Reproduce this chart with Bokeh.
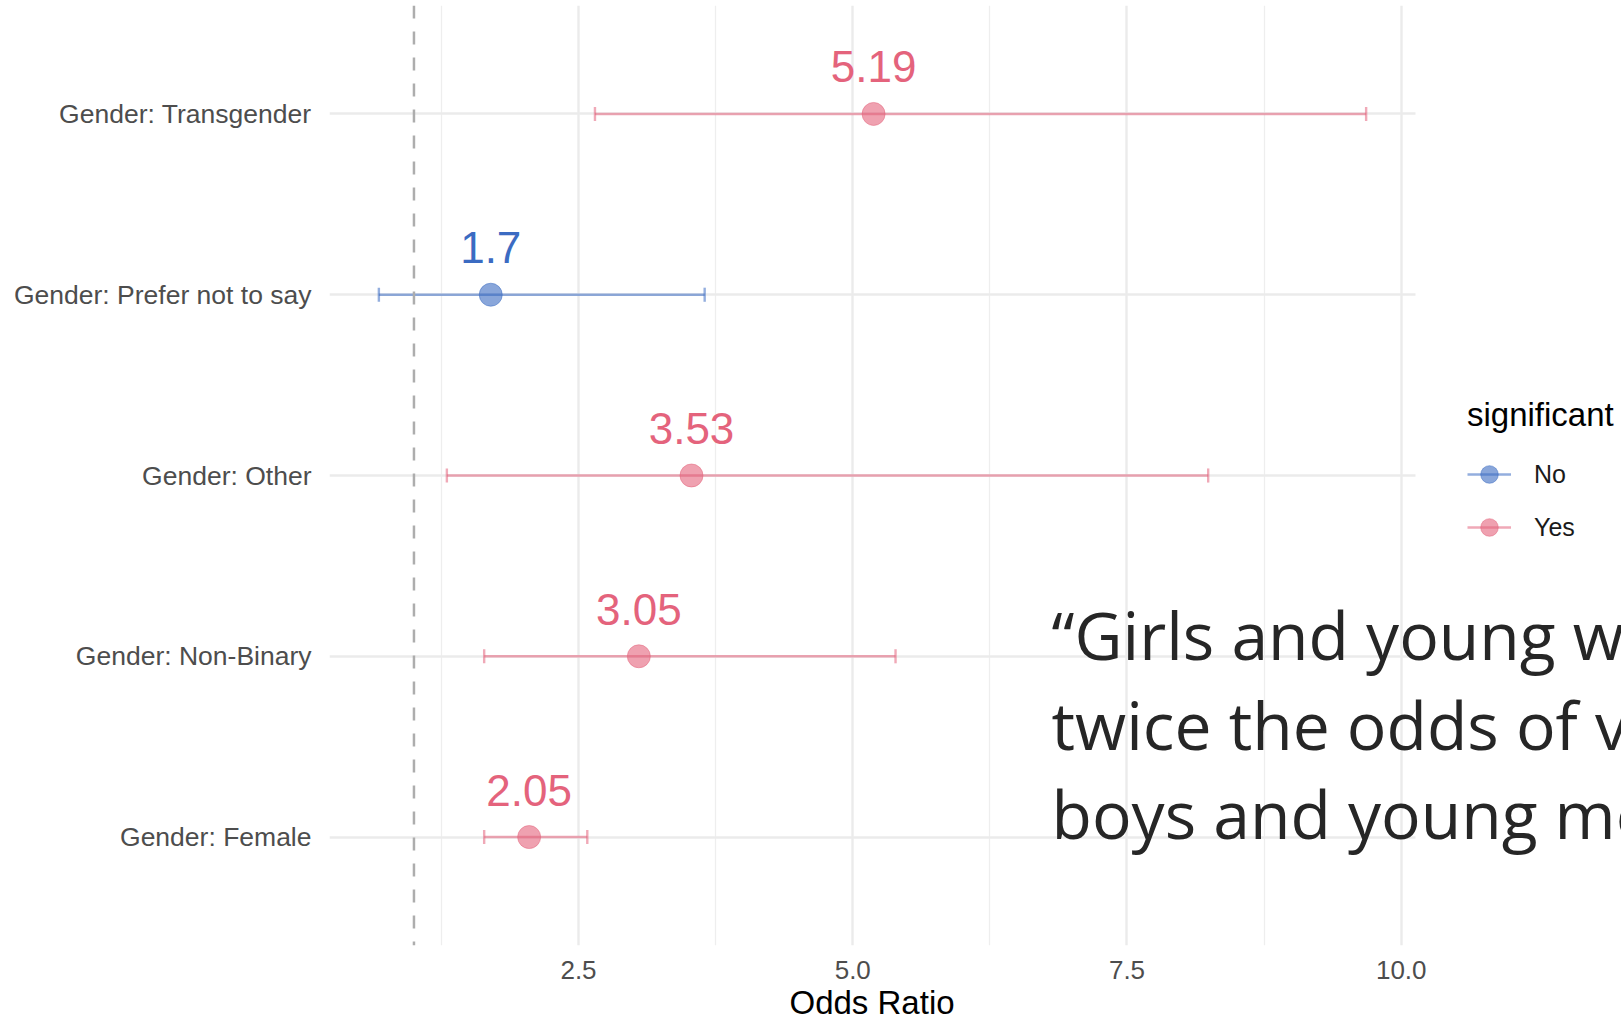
from bokeh.plotting import figure
from bokeh.models import (Range1d, FixedTicker, Span, Label, Legend, LegendItem,
                          ColumnDataSource, PrintfTickFormatter, Title)
from bokeh.core.properties import value
from bokeh.embed import file_html
from bokeh.resources import INLINE

# ---------------- data ----------------
categories = ["Gender: Female", "Gender: Non-Binary", "Gender: Other",
              "Gender: Prefer not to say", "Gender: Transgender"]
odds_ratio = [2.05, 3.05, 3.53, 1.70, 5.19]
ci_lower = [1.64, 1.64, 1.30, 0.68, 2.65]
ci_upper = [2.58, 5.39, 8.24, 3.65, 9.68]
significant = ["Yes", "Yes", "Yes", "No", "Yes"]
groups = ["No", "Yes"]
x_ticks = [2.5, 5.0, 7.5, 10.0]
x_minor_ticks = [1.25, 3.75, 6.25, 8.75]
reference_line = 1.0
x_title = "Odds Ratio"
quote_lines = ["\u201cGirls and young w", "twice the odds of v", "boys and young me"]

colors = {"No": "#3B6BC2", "Yes": "#E4637C"}

y_pos = list(range(1, len(categories) + 1))
labels = [f"{round(v, 2):g}" for v in odds_ratio]

# ggplot-like 5% expansion of the data range; frame continues to the right
PANEL_W, FRAME_W = 1086, 1292
span = max(ci_upper) - min(ci_lower)
x_start = min(ci_lower) - 0.05 * span
x_data_end = max(ci_upper) + 0.05 * span
x_frame_end = x_start + (x_data_end - x_start) * FRAME_W / PANEL_W

p = figure(width=1621, height=1023,
           min_border_left=329, min_border_right=0,
           min_border_top=5, min_border_bottom=78,
           x_range=Range1d(x_start, x_frame_end), y_range=Range1d(0.4, 5.6),
           output_backend="svg", toolbar_location=None)
p.outline_line_color = None
p.background_fill_color = "white"
p.border_fill_color = "white"

# grids
p.xgrid.ticker = FixedTicker(ticks=x_ticks, minor_ticks=x_minor_ticks)
p.xgrid.grid_line_color = "#EBEBEB"
p.xgrid.grid_line_width = 2.4
p.xgrid.minor_grid_line_color = "#EEEEEE"
p.xgrid.minor_grid_line_width = 1.3
p.ygrid.ticker = FixedTicker(ticks=y_pos)
p.ygrid.grid_line_color = "#EBEBEB"
p.ygrid.grid_line_width = 2.4
p.ygrid.cross_bounds = (x_start, x_data_end)

# axes
xa = p.xaxis[0]
xa.ticker = FixedTicker(ticks=x_ticks, minor_ticks=x_minor_ticks)
xa.bounds = (x_start, x_data_end)
xa.formatter = PrintfTickFormatter(format="%.1f")
xa.major_label_text_font = "Liberation Sans"
xa.major_label_text_font_size = "26px"
xa.major_label_text_color = "#4D4D4D"
xa.major_label_standoff = 9
ya = p.yaxis[0]
ya.ticker = FixedTicker(ticks=y_pos)
ya.major_label_overrides = {y: c for y, c in zip(y_pos, categories)}
ya.major_label_text_font = "Liberation Sans"
ya.major_label_text_font_size = "26.5px"
ya.major_label_text_color = "#4D4D4D"
ya.major_label_standoff = 12
for ax in (xa, ya):
    ax.axis_line_color = None
    ax.major_tick_line_color = None
    ax.minor_tick_line_color = None

# x-axis title, centred under the data panel (not the whole frame)
p.add_layout(Title(text=x_title, align="left", offset=460, standoff=1,
                   text_font="Liberation Sans", text_font_size="33px",
                   text_font_style="normal", text_color="#000000"), "below")

# reference line at OR = 1
p.add_layout(Span(location=reference_line, dimension="height", line_color="#ADADAD",
                  line_width=2.5, line_dash="13 13"))

legend_items = []
for g in groups:
    idx = [i for i, s in enumerate(significant) if s == g]
    src = ColumnDataSource(dict(
        y=[y_pos[i] for i in idx],
        odds=[odds_ratio[i] for i in idx],
        lo=[ci_lower[i] for i in idx],
        hi=[ci_upper[i] for i in idx],
        cap0=[y_pos[i] - 0.039 for i in idx],
        cap1=[y_pos[i] + 0.039 for i in idx],
        label=[labels[i] for i in idx],
    ))
    col = colors[g]
    seg = p.segment(x0="lo", x1="hi", y0="y", y1="y", source=src,
                    line_color=col, line_alpha=0.55, line_width=2.4)
    p.segment(x0="lo", x1="lo", y0="cap0", y1="cap1", source=src,
              line_color=col, line_alpha=0.55, line_width=2.4)
    p.segment(x0="hi", x1="hi", y0="cap0", y1="cap1", source=src,
              line_color=col, line_alpha=0.55, line_width=2.4)
    pts = p.scatter(x="odds", y="y", source=src, size=23, fill_color=col,
                    fill_alpha=0.6, line_color=col, line_alpha=0.5, line_width=1)
    p.text(x="odds", y="y", text="label", source=src, text_align="center",
           text_baseline="alphabetic", y_offset=-47,
           text_font=value("Liberation Sans"), text_font_size="44px", text_color=col)
    legend_items.append(LegendItem(label=g, renderers=[seg, pts]))

legend = Legend(items=legend_items, location=(1138, 395), title="significant",
                title_text_font="Liberation Sans", title_text_font_size="33px",
                title_text_font_style="normal", title_text_color="#000000",
                title_standoff=17,
                label_text_font="Liberation Sans", label_text_font_size="25px",
                label_text_color="#1A1A1A", label_standoff=23,
                glyph_width=44, glyph_height=46, label_height=46, spacing=7,
                padding=0, margin=0, border_line_color=None,
                background_fill_alpha=0)
p.add_layout(legend)

# quote text overlay
for line, yb in zip(quote_lines, [311.4, 221.9, 132.4]):
    p.add_layout(Label(x=722, y=yb, x_units="screen", y_units="screen", text=line,
                       text_font="Open Sans", text_font_size="66px", text_color="#262626",
                       text_baseline="alphabetic", text_align="left"))

open("out.html", "w").write(file_html(p, INLINE))
